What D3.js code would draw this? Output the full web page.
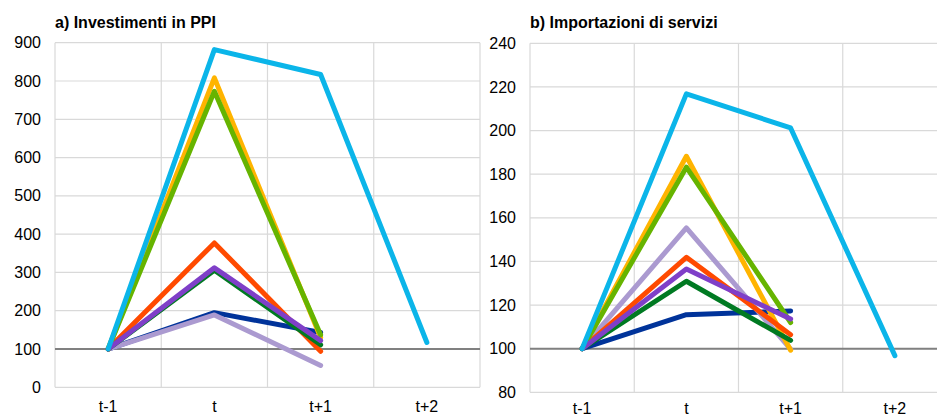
<!DOCTYPE html>
<html><head><meta charset="utf-8">
<script src="https://cdn.jsdelivr.net/npm/d3@7"></script>
<style>body{margin:0;background:#fff}svg{display:block;font-family:"Liberation Sans",Arial,sans-serif}</style>
</head><body><svg id="c" width="937" height="416"></svg>
<script>
const categories = ["t-1", "t", "t+1", "t+2"];
const seriesNames = ["s1", "s2", "s3", "s4", "s5", "s6", "s7", "s8"];
const seriesColors = ["#00339A", "#AB9AD0", "#FFB400", "#FF4A00", "#007A22", "#66B400", "#7F3FC8", "#0BB5E9"];
// panel a) Investimenti in PPI
const invValues = [
  [100, 195, 143, null],
  [100, 189, 57, null],
  [100, 808, 130, null],
  [100, 377, 94, null],
  [100, 306, 111, null],
  [100, 773, 137, null],
  [100, 312, 122, null],
  [100, 882, 817, 117]
];
const invTicks = [0, 100, 200, 300, 400, 500, 600, 700, 800, 900];
// panel b) Importazioni di servizi
const impValues = [
  [100, 115.6, 117.3, null],
  [100, 155.4, 99.8, null],
  [100, 188.2, 99.3, null],
  [100, 141.9, 106.4, null],
  [100, 130.9, 103.8, null],
  [100, 183.2, 112, null],
  [100, 136.5, 113.6, null],
  [100, 216.8, 201.2, 96.8]
];
const impTicks = [80, 100, 120, 140, 160, 180, 200, 220, 240];

const svg = d3.select("#c");
const panels = [
  {title: "a) Investimenti in PPI", values: invValues, ticks: invTicks, x0: 55, x1: 480, yTop: 42.7, yBot: 387.3, labelY: 412},
  {title: "b) Importazioni di servizi", values: impValues, ticks: impTicks, x0: 530, x1: 947, yTop: 43.3, yBot: 392.3, labelY: 413.5}
];

panels.forEach(p => {
  const g = svg.append("g");
  const x = d3.scaleBand().domain(categories).range([p.x0, p.x1]);
  const y = d3.scaleLinear().domain([p.ticks[0], p.ticks[p.ticks.length - 1]]).range([p.yBot, p.yTop]);
  g.selectAll(".hg").data(p.ticks).join("line")
    .attr("x1", p.x0).attr("x2", p.x1)
    .attr("y1", d => y(d)).attr("y2", d => y(d))
    .attr("stroke", "#d9d9d9").attr("stroke-width", 1.2);
  const bounds = categories.map(c => x(c)).concat([p.x1]);
  g.selectAll(".vg").data(bounds).join("line")
    .attr("x1", d => d).attr("x2", d => d)
    .attr("y1", p.yTop).attr("y2", p.yBot)
    .attr("stroke", "#d9d9d9").attr("stroke-width", 1.2);
  g.append("line").attr("x1", p.x0).attr("x2", p.x1)
    .attr("y1", y(100)).attr("y2", y(100))
    .attr("stroke", "#808080").attr("stroke-width", 2);
  g.selectAll(".yl").data(p.ticks).join("text")
    .attr("x", p.x0 - 14).attr("y", d => y(d)).attr("dy", "0.35em")
    .attr("text-anchor", "end").attr("font-size", 16).attr("fill", "#000")
    .text(d => d);
  g.selectAll(".xl").data(categories).join("text")
    .attr("x", d => x(d) + x.bandwidth() / 2).attr("y", p.labelY)
    .attr("text-anchor", "middle").attr("font-size", 16).attr("fill", "#000")
    .text(d => d);
  g.append("text").attr("x", p.x0).attr("y", 28)
    .attr("font-size", 16).attr("font-weight", "bold").attr("fill", "#000")
    .text(p.title);
  const line = d3.line()
    .defined(d => d.v !== null)
    .x(d => x(d.c) + x.bandwidth() / 2)
    .y(d => y(d.v));
  p.values.forEach((vals, i) => {
    g.append("path")
      .datum(categories.map((c, j) => ({c, v: vals[j]})))
      .attr("d", line)
      .attr("fill", "none")
      .attr("stroke", seriesColors[i])
      .attr("stroke-width", 5)
      .attr("stroke-linejoin", "round")
      .attr("stroke-linecap", "round");
  });
});
</script></body></html>
